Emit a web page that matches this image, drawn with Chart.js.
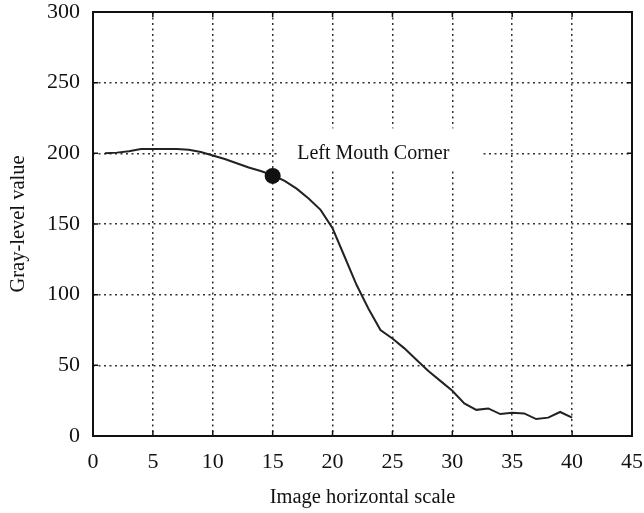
<!DOCTYPE html>
<html>
<head>
<meta charset="utf-8">
<script src="https://cdn.jsdelivr.net/npm/chart.js@4"></script>
<style>
  html, body { margin: 0; padding: 0; background: #fff; }
  #wrap { width: 644px; height: 513px; }
</style>
</head>
<body>
<div id="wrap"><canvas id="c" width="644" height="513"></canvas></div>
<script>
const xPositions = [1, 2, 3, 4, 5, 6, 7, 8, 9, 10, 11, 12, 13, 14, 15, 16, 17, 18, 19, 20, 21, 22, 23, 24, 25, 26, 27, 28, 29, 30, 31, 32, 33, 34, 35, 36, 37, 38, 39, 40];
const grayValues = [200, 200.5, 201.5, 203, 203, 203, 203, 202.5, 201, 198.5, 196, 193, 190, 187.5, 184.5, 180.5, 175, 168, 160, 147, 127, 107, 90, 75, 69, 62, 54, 46, 39, 32, 23, 18.5, 19.5, 15.5, 16.5, 16, 12, 13, 17, 13];
const cornerPoint = { x: 15, y: 184 };
const cornerLabel = "Left Mouth Corner";
const labelAnchor = { x: 17.05, y: 200 };
const xTicks = [0, 5, 10, 15, 20, 25, 30, 35, 40, 45];
const yTicks = [0, 50, 100, 150, 200, 250, 300];
const xTitle = "Image horizontal scale";
const yTitle = "Gray-level value";

const FONT = "'Liberation Serif', 'Times New Roman', serif";
const LABEL_FONT = "20px " + FONT;

const framePlugin = {
  id: 'frame',
  beforeDatasetsDraw(chart) {
    const { ctx, scales } = chart;
    ctx.save();
    ctx.font = LABEL_FONT;
    const lx = scales.x.getPixelForValue(labelAnchor.x);
    const ly = scales.y.getPixelForValue(labelAnchor.y);
    const w = ctx.measureText(cornerLabel).width;
    ctx.fillStyle = '#fff';
    ctx.fillRect(lx - 19, ly - 25, w + 19 + 32, 42);
    ctx.restore();
  },
  afterDatasetsDraw(chart) {
    const { ctx, chartArea: a, scales } = chart;
    ctx.save();
    ctx.strokeStyle = '#111';
    ctx.lineWidth = 1.5;
    const tl = 5;
    ctx.beginPath();
    xTicks.forEach(v => {
      const px = scales.x.getPixelForValue(v);
      ctx.moveTo(px, a.bottom); ctx.lineTo(px, a.bottom - tl);
      ctx.moveTo(px, a.top); ctx.lineTo(px, a.top + tl);
    });
    yTicks.forEach(v => {
      const py = scales.y.getPixelForValue(v);
      ctx.moveTo(a.left, py); ctx.lineTo(a.left + tl, py);
      ctx.moveTo(a.right, py); ctx.lineTo(a.right - tl, py);
    });
    ctx.stroke();
    ctx.lineWidth = 2;
    ctx.strokeRect(a.left, a.top, a.right - a.left, a.bottom - a.top);
    ctx.fillStyle = '#111';
    ctx.font = LABEL_FONT;
    ctx.textAlign = 'left';
    ctx.textBaseline = 'middle';
    ctx.fillText(cornerLabel, scales.x.getPixelForValue(labelAnchor.x), scales.y.getPixelForValue(labelAnchor.y));
    ctx.restore();
  }
};

new Chart(document.getElementById('c'), {
  type: 'scatter',
  data: {
    datasets: [
      {
        data: xPositions.map((x, i) => ({ x, y: grayValues[i] })),
        showLine: true,
        borderColor: '#222',
        borderWidth: 2,
        pointRadius: 0,
        tension: 0,
        order: 2
      },
      {
        data: [cornerPoint],
        pointRadius: 8,
        pointBackgroundColor: '#111',
        pointBorderColor: '#111',
        pointBorderWidth: 0,
        order: 1
      }
    ]
  },
  options: {
    responsive: false,
    animation: false,
    devicePixelRatio: 1,
    layout: { padding: { top: 12, right: 12, left: 0, bottom: 0 } },
    plugins: { legend: { display: false }, tooltip: { enabled: false } },
    scales: {
      x: {
        type: 'linear',
        min: 0, max: 45,
        afterBuildTicks(scale) { scale.ticks = xTicks.map(v => ({ value: v })); },
        afterFit(scale) { scale.height = 77; scale.paddingLeft = 0; scale.paddingRight = 0; },
        ticks: { font: { family: FONT, size: 22 }, color: '#111', padding: 13 },
        grid: { color: '#333', lineWidth: 1.5, drawTicks: false },
        border: { display: false, dash: [2, 3.5] },
        title: { display: true, text: xTitle, font: { family: FONT, size: 20.5 }, color: '#111', padding: { top: 3, bottom: 3 } }
      },
      y: {
        type: 'linear',
        min: 0, max: 300,
        afterBuildTicks(scale) { scale.ticks = yTicks.map(v => ({ value: v })); },
        afterFit(scale) { scale.width = 93; scale.paddingTop = 0; scale.paddingBottom = 0; },
        ticks: { font: { family: FONT, size: 22 }, color: '#111', padding: 13 },
        grid: { color: '#333', lineWidth: 1.5, drawTicks: false },
        border: { display: false, dash: [2, 3.5] },
        title: { display: true, text: yTitle, font: { family: FONT, size: 20.5 }, color: '#111', padding: { top: 6, bottom: 0 } }
      }
    }
  },
  plugins: [framePlugin]
});
</script>
</body>
</html>
